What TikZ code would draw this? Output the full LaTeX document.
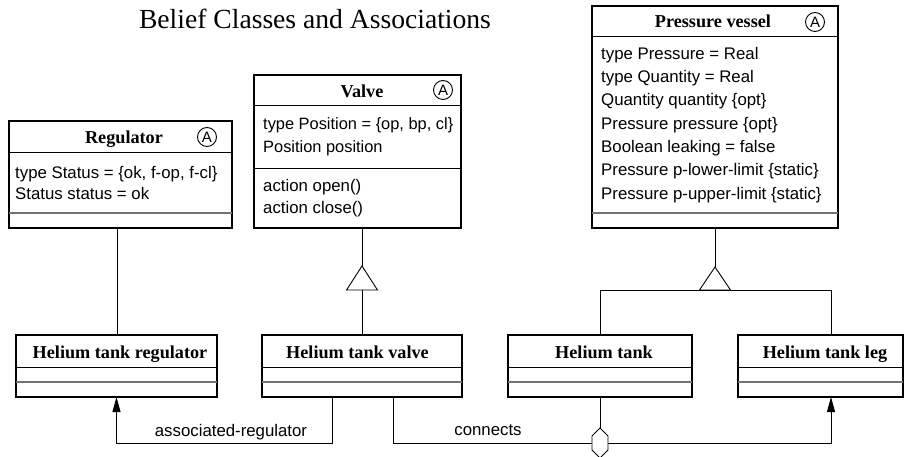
\documentclass[tikz,border=0pt]{standalone}
\usepackage{fontspec}
\setmainfont{Liberation Serif}
\setsansfont{Liberation Sans}
\newfontfamily\bodyfont{Liberation Sans}
\usetikzlibrary{arrows.meta}

\tikzset{
  classbox/.style={draw, line width=1.2pt, inner sep=0pt, outer sep=0pt, anchor=north west},
  titlesep/.style={line width=0.9pt},
  opsep/.style={line width=1.6pt, draw=black!55},
  classname/.style={font=\fontsize{18.2}{20}\selectfont\bfseries, anchor=base, inner sep=0pt},
  members/.style={font=\bodyfont\fontsize{16.8}{23.3}\selectfont, align=left, anchor=north west, inner sep=0pt},
  abstractmark/.style={draw, circle, line width=0.9pt, minimum size=19pt, inner sep=0pt,
    font=\bodyfont\fontsize{15}{15}\selectfont},
  link/.style={line width=0.9pt},
  gentri/.style={line width=0.9pt, fill=white},
  navarrow/.style={link, -{Triangle[length=15pt,width=8pt]}},
  linklabel/.style={font=\bodyfont\fontsize{16.8}{20}\selectfont, inner sep=0pt, anchor=base},
  aggnode/.style={inner sep=0pt, outer sep=0pt, minimum width=16pt, minimum height=30pt},
}

\begin{document}
\begin{tikzpicture}[x=1pt, y=-1pt]
\useasboundingbox (0,0) rectangle (911,457);
\fill[white] (0,0) rectangle (911,457);

% title
\node[font=\fontsize{27.6}{30}\selectfont, anchor=base, inner sep=0pt] (title) at (315,29)
  {Belief Classes and Associations};

% ---- Regulator
\node[classbox, minimum width=223pt, minimum height=107pt] (reg) at (9,121) {};
\draw[titlesep] (9,152) -- (232,152);
\draw[opsep] (9,213) -- (232,213);
\node[classname] (reg-name) at (124,144) {Regulator};
\node[abstractmark] (reg-abs) at (207,137) {A};
\node[members, font=\bodyfont\fontsize{16.8}{21}\selectfont] (reg-attr) at (15,163.3)
  {\strut type Status = \{ok, f-op, f-cl\}\\ Status status = ok};

% ---- Valve
\node[classbox, minimum width=207pt, minimum height=153pt] (valve) at (254,75) {};
\draw[titlesep] (254,105) -- (461,105);
\draw[titlesep] (254,168) -- (461,168);
\node[classname] (valve-name) at (362,98) {Valve};
\node[abstractmark] (valve-abs) at (443,90) {A};
\node[members, font=\bodyfont\fontsize{16.4}{23}\selectfont] (valve-attr) at (263,112.9)
  {\strut type Position = \{op, bp, cl\}\\ Position position};
\node[members, font=\bodyfont\fontsize{16.8}{22}\selectfont] (valve-ops) at (263,175.6)
  {\strut action open()\\ action close()};

% ---- Pressure vessel
\node[classbox, minimum width=246pt, minimum height=222pt] (pv) at (592,6) {};
\draw[titlesep] (592,36) -- (838,36);
\draw[opsep] (592,213) -- (838,213);
\node[classname] (pv-name) at (713,28) {Pressure vessel};
\node[abstractmark] (pv-abs) at (815,22) {A};
\node[members] (pv-attr) at (601,42.7)
  {\strut type Pressure = Real\\ type Quantity = Real\\ Quantity quantity \{opt\}\\
   Pressure pressure \{opt\}\\ Boolean leaking = false\\
   Pressure p-lower-limit \{static\}\\ Pressure p-upper-limit \{static\}};

% ---- Helium tank classes
\node[classbox, minimum width=201pt, minimum height=62pt] (htr) at (16,335) {};
\draw[titlesep] (16,367) -- (217,367);
\draw[opsep] (16,382) -- (217,382);
\node[classname] (htr-name) at (120,359) {Helium tank regulator};

\node[classbox, minimum width=200pt, minimum height=62pt] (htv) at (262,335) {};
\draw[titlesep] (262,367) -- (462,367);
\draw[opsep] (262,382) -- (462,382);
\node[classname] (htv-name) at (357.5,359) {Helium tank valve};

\node[classbox, minimum width=184pt, minimum height=62pt] (ht) at (508,335) {};
\draw[titlesep] (508,367) -- (692,367);
\draw[opsep] (508,382) -- (692,382);
\node[classname] (ht-name) at (604,359) {Helium tank};

\node[classbox, minimum width=165pt, minimum height=62pt] (htl) at (738,335) {};
\draw[titlesep] (738,367) -- (903,367);
\draw[opsep] (738,382) -- (903,382);
\node[classname] (htl-name) at (825,359) {Helium tank leg};

% ---- generalisations
\draw[link] ([xshift=-3.5pt]reg.south) -- ([xshift=0.5pt]htr.north);

\coordinate (vtri-top) at (362,266);
\coordinate (vtri-base) at (362,290);
\draw[link] ([xshift=4.5pt]valve.south) -- (vtri-top);
\draw[link] (vtri-base) -- (htv.north);
\draw[gentri] (vtri-top) -- (377.5,290) -- (346.5,290) -- cycle;

\coordinate (pvtri-top) at (715,267);
\coordinate (pvtri-base) at (715,290);
\coordinate (htl-in) at ([xshift=10.5pt]htl.north);
\draw[link] (pv.south) -- (pvtri-top);
\draw[link] (ht.north) -- (ht.north |- pvtri-base) -- (htl-in |- pvtri-base) -- (htl-in);
\draw[gentri] (pvtri-top) -- (730.5,290) -- (699.5,290) -- cycle;

% ---- associations
\coordinate (htv-assoc) at ([xshift=-30pt]htv.south);
\coordinate (htv-conn) at ([xshift=31pt]htv.south);
\coordinate (htl-end) at ([xshift=10.5pt]htl.south);
\node[aggnode] (agg) at (600,443) {};

\draw[navarrow] (htv-assoc) -- ++(0,46) -| (htr.south);
\draw[link] (htv-conn) |- (agg.west);
\draw[link] (ht.south) -- (agg.north);
\draw[navarrow] (agg.east) -| (htl-end);
\draw[link, fill=white] (agg.north) -- ([yshift=-8pt]agg.north east) -- ([yshift=8pt]agg.south east)
  -- (agg.south) -- ([yshift=8pt]agg.south west) -- ([yshift=-8pt]agg.north west) -- cycle;

\node[linklabel] (assoc-label) at (231,436) {associated-regulator};
\node[linklabel] (conn-label) at (488,435) {connects};
\end{tikzpicture}
\end{document}
